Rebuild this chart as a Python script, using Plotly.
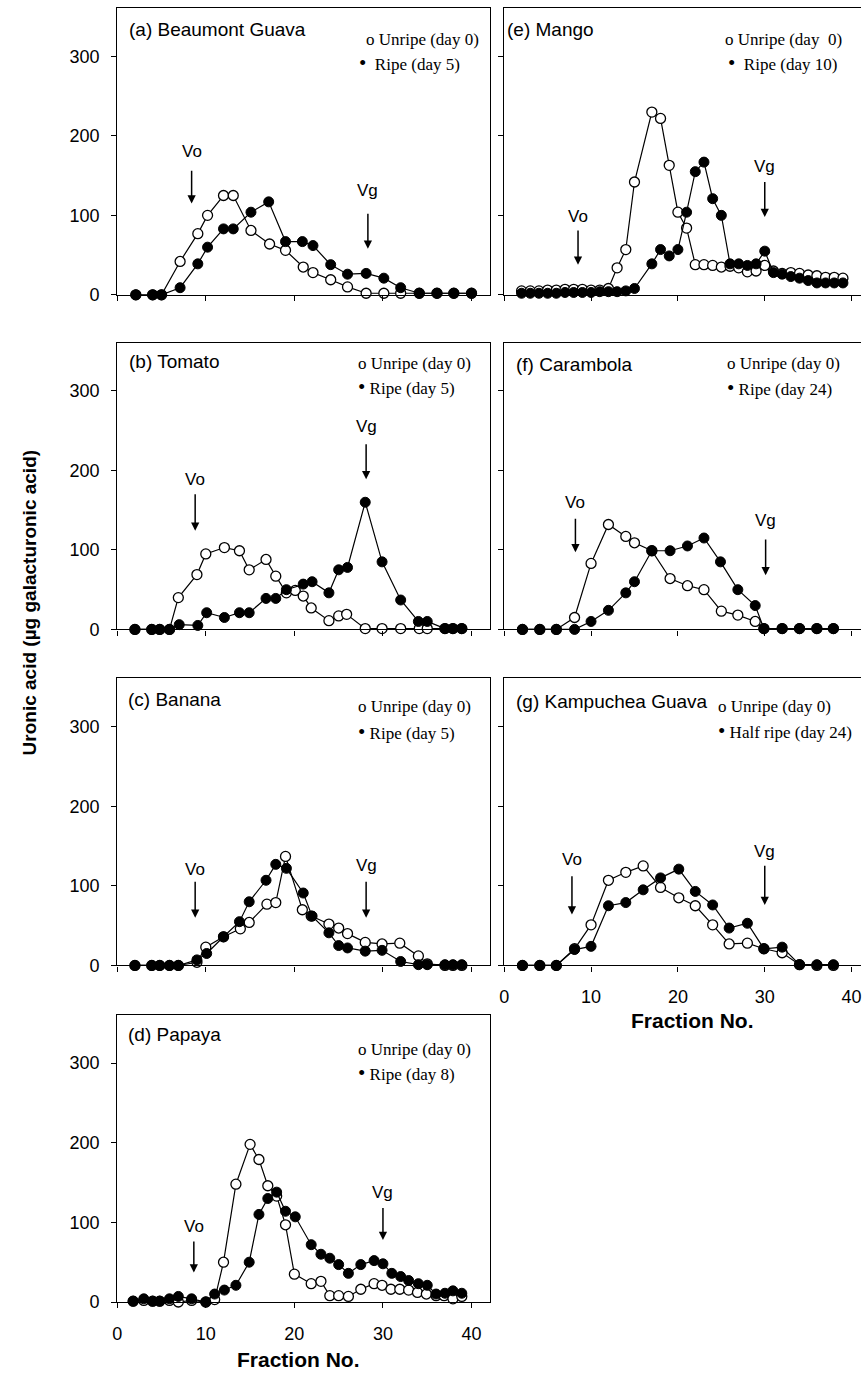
import plotly.graph_objects as go

W, H = 862, 1382

# ---------------- data ----------------
# (a) Beaumont Guava
a_open_x = [2.1, 4.0, 5.0, 7.1, 9.1, 10.2, 12.0, 13.1, 15.1, 17.2, 19.0, 21.0, 22.1, 24.1, 26.0, 28.1, 30.1, 32.0, 34.1, 36.1, 38.0, 40.0]
a_open_y = [0, 0, 0, 42, 77, 100, 125, 125, 81, 64, 56, 35, 28, 19, 10, 2, 2, 2, 2, 2, 2, 2]
a_ripe_x = [2.1, 4.0, 5.0, 7.1, 9.1, 10.2, 12.0, 13.1, 15.1, 17.1, 19.0, 20.9, 22.1, 24.1, 26.0, 28.1, 30.1, 32.0, 34.1, 36.1, 38.0, 40.0]
a_ripe_y = [0, 0, 0, 9, 39, 60, 83, 83, 104, 117, 67, 67, 62, 38, 26, 27, 21, 9, 2, 2, 2, 2]

# (b) Tomato
b_open_x = [2.0, 3.9, 4.8, 5.9, 6.9, 9.0, 10.0, 12.1, 13.8, 14.9, 16.8, 17.9, 19.1, 20.1, 21.0, 21.9, 23.9, 25.0, 25.9, 28.0, 29.9, 32.0, 34.1, 35.0, 37.0, 37.9, 38.9]
b_open_y = [0, 0, 0, 0, 40, 69, 95, 103, 99, 75, 88, 67, 46, 49, 42, 27, 11, 17, 19, 1, 1, 1, 1, 1, 1, 1, 1]
b_ripe_x = [2.0, 3.9, 4.8, 5.9, 7.0, 9.1, 10.1, 12.1, 13.8, 14.9, 16.8, 17.9, 19.1, 21.0, 22.0, 23.9, 25.0, 26.0, 28.0, 29.9, 32.0, 34.0, 35.0, 37.0, 37.9, 38.9]
b_ripe_y = [0, 0, 0, 0, 6, 5, 21, 15, 21, 21, 39, 39, 50, 57, 60, 46, 75, 78, 160, 85, 37, 10, 10, 1, 1, 1]

# (c) Banana
c_open_x = [2.0, 3.9, 4.8, 5.9, 6.9, 9.0, 10.0, 12.0, 13.9, 14.9, 16.9, 17.9, 19.0, 20.9, 21.9, 23.9, 25.0, 26.0, 28.0, 29.9, 31.9, 34.0, 35.0, 37.0, 37.9, 38.9]
c_open_y = [0, 0, 0, 0, 0, 4, 23, 36, 46, 54, 77, 79, 137, 70, 62, 52, 47, 40, 29, 27, 28, 12, 2, 0, 0, 0]
c_ripe_x = [2.0, 3.9, 4.8, 5.9, 6.9, 9.0, 10.1, 12.0, 13.8, 14.9, 16.8, 17.9, 19.1, 21.0, 22.0, 23.9, 25.0, 26.0, 28.0, 29.9, 32.0, 34.0, 35.0, 37.0, 37.9, 38.9]
c_ripe_y = [0, 0, 0, 0, 0, 7, 15, 36, 55, 80, 107, 127, 122, 91, 62, 41, 25, 22, 18, 19, 5, 1, 1, 1, 1, 1]

# (d) Papaya
d_open_x = [1.8, 3.0, 4.0, 4.8, 5.9, 6.9, 8.4, 10.0, 11.0, 12.0, 13.4, 15.0, 16.0, 17.0, 18.0, 19.0, 20.0, 21.9, 23.0, 24.0, 25.0, 26.1, 27.5, 29.0, 29.9, 30.9, 31.9, 32.9, 33.9, 34.9, 36.0, 36.9, 37.9, 38.9]
d_open_y = [1, 2, 1, 1, 2, 0, 2, 0, 3, 50, 148, 198, 179, 146, 133, 97, 35, 23, 26, 8, 8, 7, 16, 23, 21, 16, 16, 15, 12, 10, 8, 8, 4, 7]
d_ripe_x = [1.8, 3.0, 4.0, 4.8, 5.9, 6.9, 8.4, 10.0, 11.0, 12.1, 13.4, 14.9, 16.0, 17.0, 18.0, 19.0, 20.1, 21.9, 23.0, 24.0, 25.0, 26.1, 27.5, 29.0, 30.0, 31.0, 32.0, 32.9, 34.0, 35.0, 36.0, 37.0, 37.9, 38.9]
d_ripe_y = [1, 4, 1, 1, 4, 7, 4, 0, 10, 15, 21, 50, 110, 130, 138, 114, 107, 72, 60, 55, 47, 36, 47, 52, 48, 36, 32, 27, 23, 21, 10, 11, 14, 11]

# (e) Mango
e_open_x = [2, 3, 4, 5, 6, 7, 8, 9, 10, 11, 12, 13, 14, 15, 17, 18, 19, 20, 21, 22, 23, 24, 25, 26, 27, 28, 29, 30, 31, 32, 33, 34, 35, 36, 37, 38, 39]
e_open_y = [5, 5, 5, 6, 6, 7, 7, 7, 6, 6, 8, 34, 57, 142, 230, 222, 163, 104, 84, 38, 38, 37, 35, 36, 34, 29, 30, 37, 30, 27, 28, 27, 25, 24, 22, 22, 21]
e_ripe_x = [2, 3, 4, 5, 6, 7, 8, 9, 10, 11, 12, 13, 14, 15, 17, 18, 19, 20, 21, 22, 23, 24, 25, 26, 27, 28, 29, 30, 31, 32, 33, 34, 35, 36, 37, 38, 39]
e_ripe_y = [2, 2, 2, 2, 2, 3, 3, 3, 3, 4, 4, 4, 5, 8, 39, 57, 49, 57, 104, 155, 167, 121, 100, 39, 39, 37, 39, 55, 28, 26, 23, 21, 18, 15, 15, 15, 15]

# (f) Carambola
f_open_x = [2.1, 4.1, 6.0, 8.1, 10.0, 12.0, 14.0, 15.0, 17.0, 19.1, 21.1, 23.0, 25.0, 26.9, 28.9, 29.9, 32.0, 34.0, 36.0, 37.9]
f_open_y = [0, 0, 0, 15, 83, 132, 117, 109, 99, 64, 55, 50, 23, 18, 10, 1, 1, 1, 1, 1]
f_ripe_x = [2.1, 4.1, 6.0, 8.1, 10.0, 12.0, 14.0, 15.0, 17.0, 19.1, 21.1, 23.0, 24.9, 26.9, 28.9, 29.9, 32.0, 34.0, 36.0, 37.9]
f_ripe_y = [0, 0, 0, 0, 10, 24, 46, 60, 99, 99, 105, 115, 85, 50, 30, 1, 1, 1, 1, 1]

# (g) Kampuchea Guava
g_x = [2.1, 4.1, 6.0, 8.1, 10.0, 12.0, 14.0, 16.0, 18.0, 20.1, 22.0, 24.0, 25.9, 28.0, 29.9, 32.0, 34.0, 36.0, 37.9]
g_open_y = [0, 0, 0, 21, 51, 107, 117, 125, 98, 85, 75, 51, 27, 28, 21, 16, 1, 0, 0]
g_ripe_y = [0, 0, 0, 20, 24, 75, 79, 95, 110, 121, 93, 76, 47, 53, 21, 23, 1, 1, 1]

titles = ["(a) Beaumont Guava", "(b) Tomato", "(c) Banana", "(d) Papaya",
          "(e) Mango", "(f) Carambola", "(g) Kampuchea Guava"]
legend_open = ["Unripe (day 0)", "Unripe (day 0)", "Unripe (day 0)", "Unripe (day 0)",
               "Unripe (day  0)", "Unripe (day 0)", "Unripe (day 0)"]
legend_ripe = ["Ripe (day 5)", "Ripe (day 5)", "Ripe (day 5)", "Ripe (day 8)",
               "Ripe (day 10)", "Ripe (day 24)", "Half ripe (day 24)"]
x_ticks = [0, 10, 20, 30, 40]
y_ticks = [0, 100, 200, 300]

series = [
    (a_open_x, a_open_y, a_ripe_x, a_ripe_y),
    (b_open_x, b_open_y, b_ripe_x, b_ripe_y),
    (c_open_x, c_open_y, c_ripe_x, c_ripe_y),
    (d_open_x, d_open_y, d_ripe_x, d_ripe_y),
    (e_open_x, e_open_y, e_ripe_x, e_ripe_y),
    (f_open_x, f_open_y, f_ripe_x, f_ripe_y),
    (g_x, g_open_y, g_x, g_ripe_y),
]

# ---------------- layout geometry (pixels) ----------------
cols = {"L": (113, 488, 42.04), "R": (502.7, 862, 41.08)}
rows = [(8, 297), (345, 634), (683, 972.5), (1022, 1311.5)]
panel_pos = [("L", 0), ("L", 1), ("L", 2), ("L", 3), ("R", 0), ("R", 1), ("R", 2)]
YMAX = 361

# annotation layout: (vo_x, vo_text, vo_tail, vo_head, vg_x, vg_text, vg_tail, vg_head)
arrows = [
    (8.4, 181, 158, 115, 28.3, 131, 104, 58),
    (8.8, 189, 172, 124, 28.1, 255, 235, 189),
    (8.8, 121, 107, 60, 28.1, 125, 107, 60),
    (8.65, 95, 78, 37, 30.0, 138, 120, 78),
    (8.5, 98, 83, 38, 30.0, 162, 144, 98),
    (8.2, 160, 141, 97, 30.1, 137, 115, 68),
    (7.8, 133, 114, 64, 30.0, 143, 127, 76),
]
# positions in pixels: (title_x, title_y, open_x, open_y, ripe_x, ripe_y, gap_open, gap_ripe)
labels_px = [
    (123, 30, 362, 40, 354, 63, " ", "  "),
    (123, 364, 353, 366, 353, 390, " ", " "),
    (122, 705, 353, 712, 353, 737, " ", " "),
    (122, 1042, 353, 1057, 353, 1081, " ", " "),
    (504, 30, 723, 40, 726, 63, " ", "  "),
    (513, 367, 725, 366, 725, 391, " ", " "),
    (513, 707, 716, 712, 716, 736, " ", " "),
]

def px_x(p):
    return p / W

def px_y(p):
    return 1 - p / H

SANS = "Liberation Sans, Arial, sans-serif"
SERIF = "Liberation Serif, Times New Roman, serif"
BULLET = '<span style="font-size:21px">\u2022</span>'

fig = go.Figure()
layout = dict(width=W, height=H, margin=dict(l=0, r=0, t=0, b=0),
              paper_bgcolor="white", plot_bgcolor="white", showlegend=False)
annotations = []

for i, (ox, oy, rx, ry) in enumerate(series):
    n = i + 1
    xa = "x" if n == 1 else f"x{n}"
    ya = "y" if n == 1 else f"y{n}"
    col, row = panel_pos[i]
    x0, x1, xmax = cols[col]
    y0, y1 = rows[row]
    fig.add_trace(go.Scatter(x=ox, y=oy, xaxis=xa, yaxis=ya, mode="lines+markers",
                             line=dict(color="black", width=1.2), cliponaxis=False,
                             marker=dict(symbol="circle", size=10, color="white",
                                         line=dict(color="black", width=1.3))))
    fig.add_trace(go.Scatter(x=rx, y=ry, xaxis=xa, yaxis=ya, mode="lines+markers",
                             line=dict(color="black", width=1.2), cliponaxis=False,
                             marker=dict(symbol="circle", size=10, color="black",
                                         line=dict(color="black", width=1))))
    show_x_labels = (i == 3 or i == 6)
    xkey = "xaxis" if n == 1 else f"xaxis{n}"
    ykey = "yaxis" if n == 1 else f"yaxis{n}"
    layout[xkey] = dict(domain=[px_x(x0), min(px_x(x1), 1.0)], anchor=ya, range=[0, xmax],
                        tickvals=x_ticks, showticklabels=show_x_labels,
                        ticks="outside", ticklen=5, tickwidth=1, tickcolor="black",
                        showline=True, linecolor="black", linewidth=1.2, mirror=True,
                        showgrid=False, zeroline=False, ticklabelstandoff=10,
                        ticklabeloverflow="allow",
                        tickfont=dict(family=SANS, size=18, color="black"))
    layout[ykey] = dict(domain=[px_y(y1), px_y(y0)], anchor=xa, range=[0, YMAX],
                        tickvals=y_ticks, showticklabels=(col == "L"),
                        ticks="outside", ticklen=5, tickwidth=1, tickcolor="black",
                        showline=True, linecolor="black", linewidth=1.2,
                        mirror=(col == "L"),
                        showgrid=False, zeroline=False, ticklabelstandoff=8,
                        tickfont=dict(family=SANS, size=18, color="black"))

    vo_x, vo_t, vo_a, vo_h, vg_x, vg_t, vg_a, vg_h = arrows[i]
    for (ax_x, t, tail, head, lab) in [(vo_x, vo_t, vo_a, vo_h, "Vo"), (vg_x, vg_t, vg_a, vg_h, "Vg")]:
        annotations.append(dict(x=ax_x, y=head, ax=ax_x, ay=tail, xref=xa, yref=ya,
                                axref=xa, ayref=ya, text="", showarrow=True,
                                arrowhead=2, arrowsize=1.1, arrowwidth=1.5,
                                arrowcolor="black", standoff=0, startstandoff=0))
        annotations.append(dict(x=ax_x, y=t, xref=xa, yref=ya, text=lab, showarrow=False,
                                xanchor="center", yanchor="middle",
                                font=dict(family=SANS, size=17, color="black")))

    tx, ty, ox_, oy_, rx_, ry_, g1, g2 = labels_px[i]
    annotations.append(dict(x=px_x(tx), y=px_y(ty), xref="paper", yref="paper",
                            text=titles[i], showarrow=False, xanchor="left", yanchor="middle",
                            font=dict(family=SANS, size=19, color="black")))
    annotations.append(dict(x=px_x(ox_), y=px_y(oy_), xref="paper", yref="paper",
                            text="o" + g1 + legend_open[i], showarrow=False,
                            xanchor="left", yanchor="middle",
                            font=dict(family=SERIF, size=17, color="black")))
    annotations.append(dict(x=px_x(rx_), y=px_y(ry_), xref="paper", yref="paper",
                            text=BULLET + g2 + legend_ripe[i], showarrow=False,
                            xanchor="left", yanchor="middle",
                            font=dict(family=SERIF, size=17, color="black")))

# axis titles
annotations.append(dict(x=px_x(296), y=px_y(1369), xref="paper", yref="paper",
                        text="<b>Fraction No.</b>", showarrow=False, xanchor="center", yanchor="middle",
                        font=dict(family=SANS, size=21, color="black")))
annotations.append(dict(x=px_x(692), y=px_y(1028), xref="paper", yref="paper",
                        text="<b>Fraction No.</b>", showarrow=False, xanchor="center", yanchor="middle",
                        font=dict(family=SANS, size=21, color="black")))
annotations.append(dict(x=px_x(25), y=px_y(607), xref="paper", yref="paper",
                        text="<b>Uronic acid (\u00b5g galacturonic acid)</b>", showarrow=False,
                        xanchor="center", yanchor="middle", textangle=-90,
                        font=dict(family=SANS, size=19, color="black")))

layout["annotations"] = annotations
fig.update_layout(**layout)
fig.write_html("out.html", config={"displayModeBar": False},
               post_script="document.body.style.margin='0';document.body.style.overflow='hidden';")
